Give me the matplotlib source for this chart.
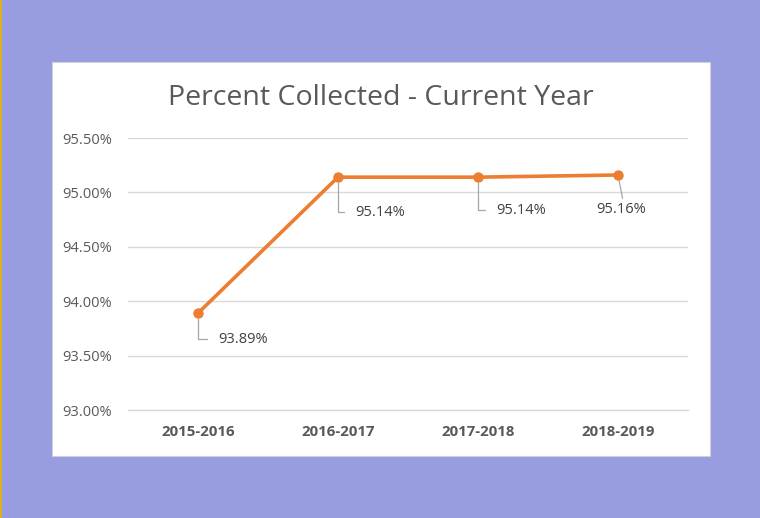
#!/usr/bin/env python3

import matplotlib
matplotlib.use("Agg")

import matplotlib.pyplot as plt
import matplotlib.patches as mpatches
from matplotlib.ticker import FuncFormatter

########################################################################################################################

years = ['2015-2016', '2016-2017', '2017-2018', '2018-2019']
collected = [93.89, 95.14, 95.14, 95.16]
labels = ['93.89%', '95.14%', '95.14%', '95.16%']
yticks = [93.00, 93.50, 94.00, 94.50, 95.00, 95.50]

########################################################################################################################

plt.rcParams['font.family'] = ['Open Sans', 'DejaVu Sans']

fig = plt.figure(figsize=(7.6, 5.18), dpi=100)
fig.patch.set_facecolor('#979DE0')

# white chart panel
panel = mpatches.Rectangle((52 / 760, 1 - 456 / 518), 658 / 760, 394 / 518,
                           transform=fig.transFigure, facecolor='white',
                           edgecolor='#D0D0D8', linewidth=0.8, zorder=-5)
fig.patches.append(panel)
fig.add_artist(plt.Line2D([0.5 / 760, 0.5 / 760], [0, 1], color='#E8B800', linewidth=1.2))

ax = fig.add_axes([128 / 760, 1 - 410 / 518, 560 / 760, 272 / 518])
ax.set_facecolor('none')
ax.set_zorder(2)

x = list(range(len(years)))
ax.plot(x, collected, color='#ED7D31', linewidth=2.6, marker='o', markersize=6.5, zorder=3,
        solid_capstyle='round')

ax.set_xlim(-0.5, len(years) - 0.5)
ax.set_ylim(93.0, 95.5)
ax.set_yticks(yticks)
ax.yaxis.set_major_formatter(FuncFormatter(lambda v, p: f'{v:.2f}%'))
ax.set_xticks(x)
ax.set_xticklabels(years, fontweight='bold', fontsize=10.8)
ax.tick_params(axis='both', length=0, colors='#595959')
ax.tick_params(axis='y', pad=11.5, labelsize=10.5)
ax.tick_params(axis='x', pad=11)
ax.grid(axis='y', color='#D9D9D9', linewidth=1)
ax.axhline(93.0, color='#D9D9D9', linewidth=1, clip_on=False, zorder=0)
ax.set_axisbelow(True)
for s in ax.spines.values():
    s.set_visible(False)

# data labels with leader lines
offsets = [(20, -26), (17, -35), (18, -33), (-22, -35)]
for i, (val, lab) in enumerate(zip(collected, labels)):
    dx, dy = offsets[i]
    if i < 3:
        ax.annotate(lab, (i, val), xytext=(dx, dy), textcoords='offset pixels',
                    ha='left', va='center', fontsize=10.5, color='#404040',
                    arrowprops=dict(arrowstyle='-', color='#A6A6A6', lw=0.9,
                                    connectionstyle='angle,angleA=0,angleB=90,rad=0',
                                    relpos=(0, 0.5), shrinkA=6, shrinkB=4))
    else:
        ax.annotate(lab, (i, val), xytext=(dx, dy), textcoords='offset pixels',
                    ha='left', va='center', fontsize=10.5, color='#404040',
                    arrowprops=dict(arrowstyle='-', color='#A6A6A6', lw=0.9,
                                    relpos=(0.55, 1.0), shrinkA=1, shrinkB=4))

fig.text(381 / 760, 1 - 98 / 518, 'Percent Collected - Current Year', ha='center', va='center',
         fontsize=20.5, color='#595959')

plt.savefig('out.png', dpi=100, facecolor=fig.get_facecolor())
